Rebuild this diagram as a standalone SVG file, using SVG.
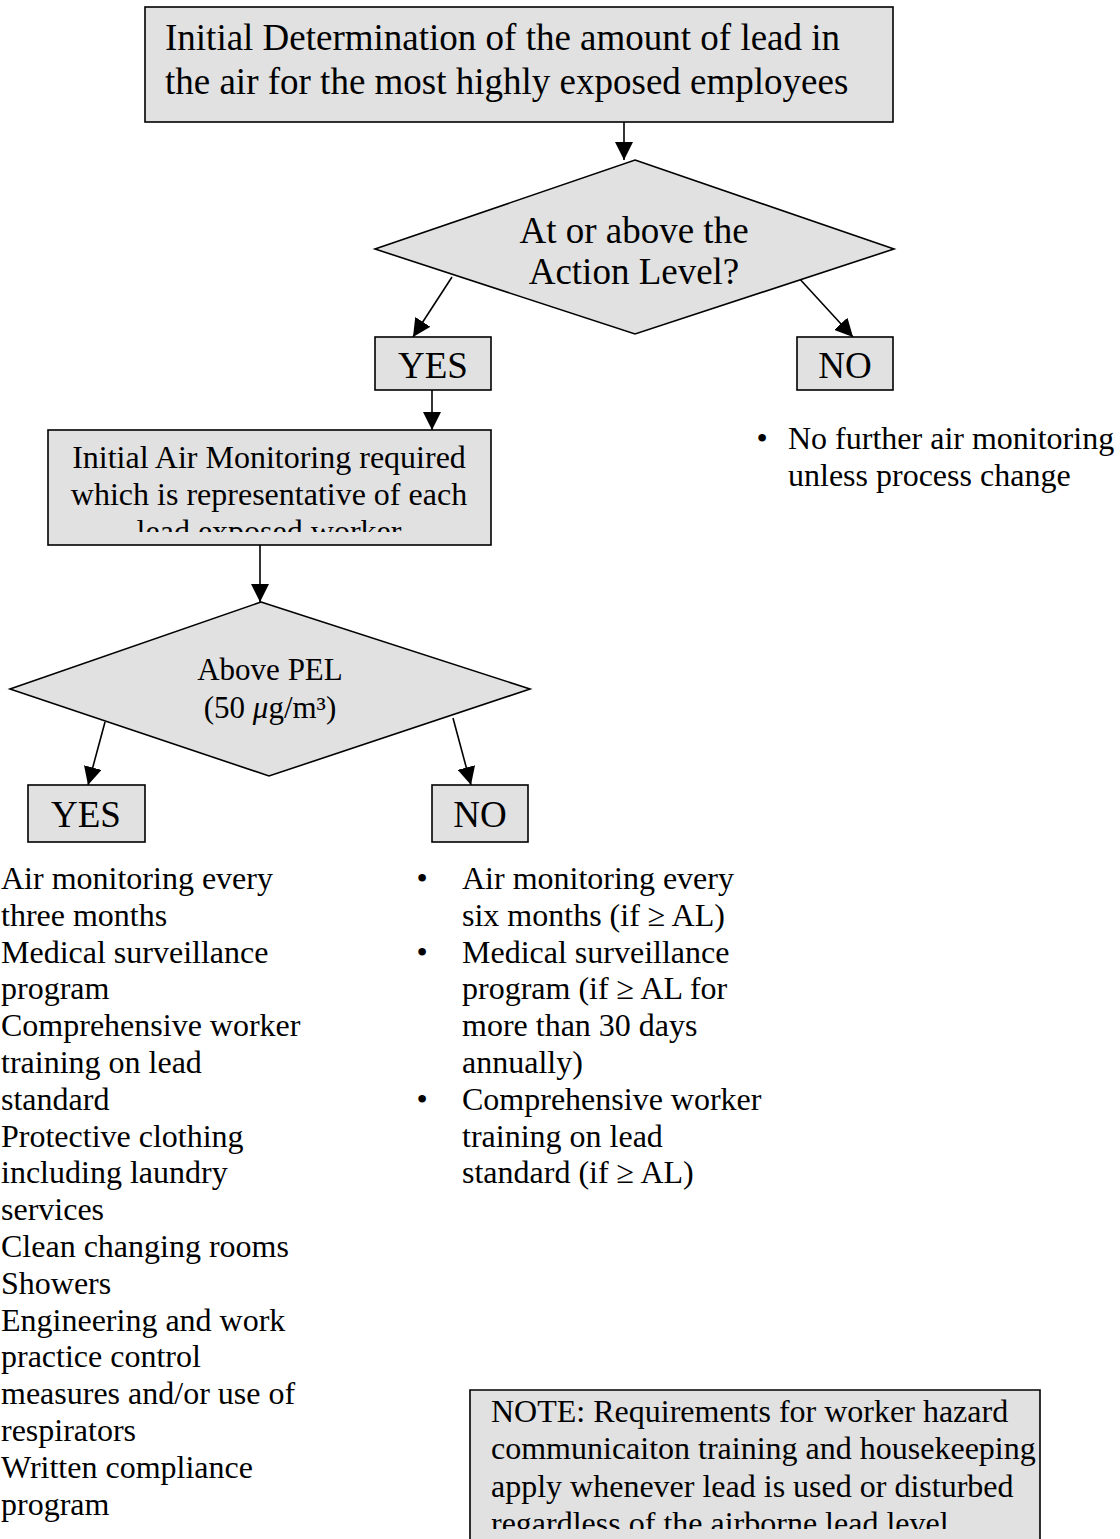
<svg xmlns="http://www.w3.org/2000/svg" width="1120" height="1539" viewBox="0 0 1120 1539">
<style>
.box{fill:#e1e1e1;stroke:#000;stroke-width:1.6}
.t{font-family:"Liberation Serif","Times New Roman",serif;fill:#000}
.f37{font-size:37px}
.f32{font-size:32px}
.f31{font-size:31px}
.c{text-anchor:middle}
.ln{stroke:#000;stroke-width:1.6;fill:none}
</style>
<defs>
<marker id="ah2" viewBox="0 0 18 18" refX="18" refY="9" markerWidth="18" markerHeight="18" markerUnits="userSpaceOnUse" orient="auto">
<path d="M0,0 L18,9 L0,18 z" fill="#000"/>
</marker>
<clipPath id="clipAir"><rect x="48" y="430" width="443" height="102"/></clipPath>
<clipPath id="clipNote"><rect x="470" y="1390" width="570" height="139"/></clipPath>
</defs>

<g id="connectors">
<line class="ln" x1="624" y1="122" x2="624" y2="160" marker-end="url(#ah2)"/>
<line class="ln" x1="452" y1="277" x2="413" y2="337" marker-end="url(#ah2)"/>
<line class="ln" x1="797" y1="276" x2="853" y2="337" marker-end="url(#ah2)"/>
<line class="ln" x1="432" y1="390" x2="432" y2="430" marker-end="url(#ah2)"/>
<line class="ln" x1="260" y1="545" x2="260" y2="602" marker-end="url(#ah2)"/>
<line class="ln" x1="105" y1="722" x2="88" y2="785" marker-end="url(#ah2)"/>
<line class="ln" x1="453" y1="718" x2="471" y2="785" marker-end="url(#ah2)"/>
</g>

<g id="initial-determination">
<rect class="box" x="145" y="7" width="748" height="115"/>
<text class="t f37" x="165" y="50">Initial Determination of the amount of lead in</text>
<text class="t f37" x="165" y="94">the air for the most highly exposed employees</text>
</g>

<g id="action-level">
<polygon class="box" points="635,160 894,249 635,334 375,249"/>
<text class="t f37 c" x="634" y="243">At or above the</text>
<text class="t f37 c" x="634" y="284">Action Level?</text>
</g>

<g id="yes1">
<rect class="box" x="375" y="337" width="116" height="53"/>
<text class="t f37 c" x="433" y="378">YES</text>
</g>

<g id="no1">
<rect class="box" x="797" y="337" width="96" height="53"/>
<text class="t f37 c" x="845" y="378">NO</text>
</g>

<g id="no1-list">
<text class="t f32 c" x="762" y="449">•</text>
<text class="t f32" x="788" y="449">No further air monitoring</text>
<text class="t f32" x="788" y="486">unless process change</text>
</g>

<g id="initial-air">
<rect class="box" x="48" y="430" width="443" height="115"/>
<g clip-path="url(#clipAir)">
<text class="t f32 c" x="269" y="468">Initial Air Monitoring required</text>
<text class="t f32 c" x="269" y="505">which is representative of each</text>
<text class="t f32 c" x="269" y="542">lead exposed worker</text>
</g>
</g>

<g id="above-pel">
<polygon class="box" points="261,602 530,689 269,776 10,689"/>
<text class="t f31 c" x="270" y="680">Above PEL</text>
<text class="t f31 c" x="270" y="718">(50 <tspan font-style="italic">μ</tspan>g/m³)</text>
</g>

<g id="yes2">
<rect class="box" x="28" y="785" width="117" height="57"/>
<text class="t f37 c" x="86" y="827">YES</text>
</g>

<g id="no2">
<rect class="box" x="432" y="785" width="96" height="57"/>
<text class="t f37 c" x="480" y="827">NO</text>
</g>

<g id="yes2-list">
<text class="t f32" x="1" y="889">Air monitoring every</text>
<text class="t f32" x="1" y="925.8">three months</text>
<text class="t f32" x="1" y="962.6">Medical surveillance</text>
<text class="t f32" x="1" y="999.4">program</text>
<text class="t f32" x="1" y="1036.2">Comprehensive worker</text>
<text class="t f32" x="1" y="1073">training on lead</text>
<text class="t f32" x="1" y="1109.8">standard</text>
<text class="t f32" x="1" y="1146.6">Protective clothing</text>
<text class="t f32" x="1" y="1183.4">including laundry</text>
<text class="t f32" x="1" y="1220.2">services</text>
<text class="t f32" x="1" y="1257">Clean changing rooms</text>
<text class="t f32" x="1" y="1293.8">Showers</text>
<text class="t f32" x="1" y="1330.6">Engineering and work</text>
<text class="t f32" x="1" y="1367.4">practice control</text>
<text class="t f32" x="1" y="1404.2">measures and/or use of</text>
<text class="t f32" x="1" y="1441">respirators</text>
<text class="t f32" x="1" y="1477.8">Written compliance</text>
<text class="t f32" x="1" y="1514.6">program</text>
</g>

<g id="no2-list">
<text class="t f32 c" x="422" y="889">•</text>
<text class="t f32" x="462" y="889">Air monitoring every</text>
<text class="t f32" x="462" y="925.8">six months (if ≥ AL)</text>
<text class="t f32 c" x="422" y="962.6">•</text>
<text class="t f32" x="462" y="962.6">Medical surveillance</text>
<text class="t f32" x="462" y="999.4">program (if ≥ AL for</text>
<text class="t f32" x="462" y="1036.2">more than 30 days</text>
<text class="t f32" x="462" y="1073">annually)</text>
<text class="t f32 c" x="422" y="1109.8">•</text>
<text class="t f32" x="462" y="1109.8">Comprehensive worker</text>
<text class="t f32" x="462" y="1146.6">training on lead</text>
<text class="t f32" x="462" y="1183.4">standard (if ≥ AL)</text>
</g>

<g id="note">
<path class="box" d="M470,1541 L470,1390 L1040,1390 L1040,1541"/>
<g clip-path="url(#clipNote)">
<text class="t f32" x="491" y="1422">NOTE: Requirements for worker hazard</text>
<text class="t f32" x="491" y="1459">communicaiton training and housekeeping</text>
<text class="t f32" x="491" y="1497">apply whenever lead is used or disturbed</text>
<text class="t f32" x="491" y="1534">regardless of the airborne lead level</text>
</g>
</g>
</svg>
